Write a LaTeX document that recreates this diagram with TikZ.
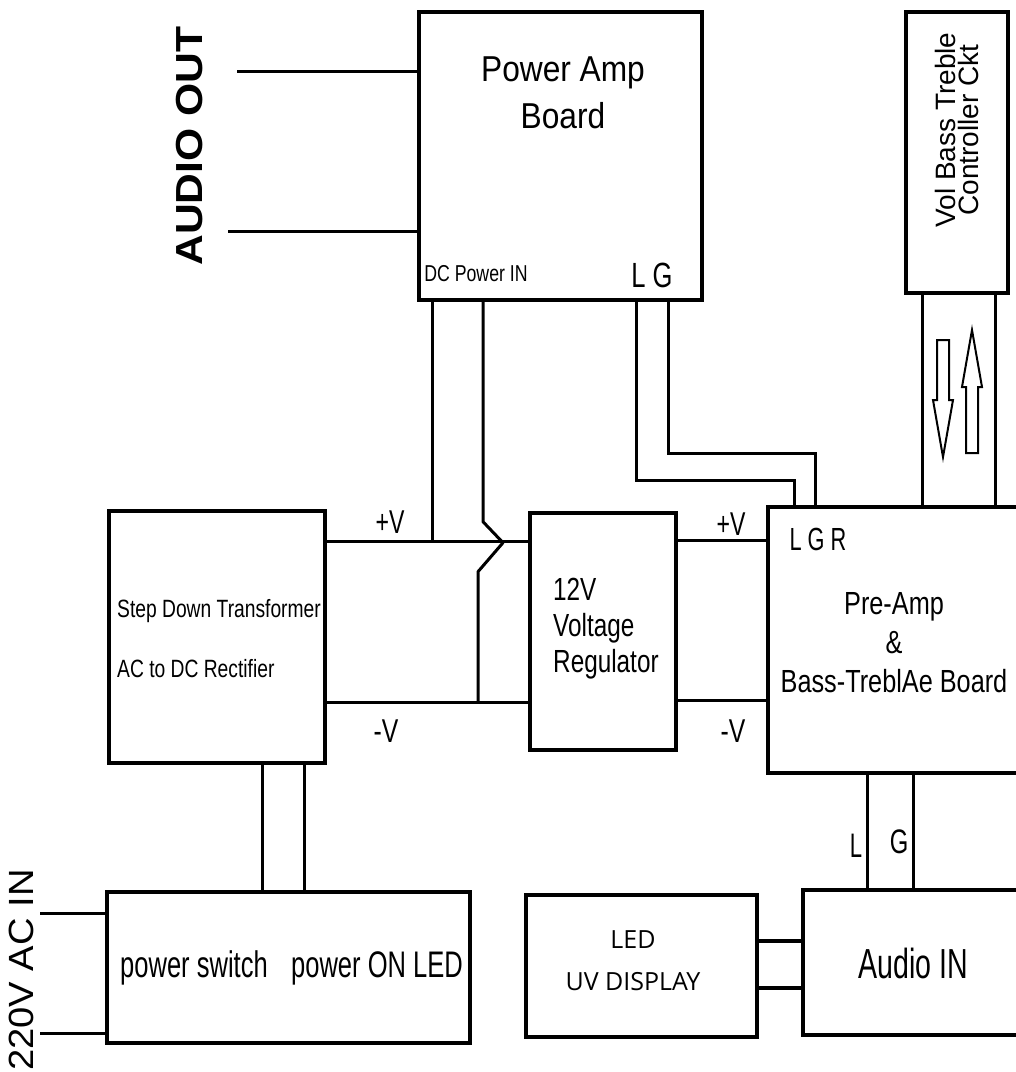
\documentclass[tikz,border=0pt]{standalone}
\usepackage{fontspec}
\usepackage{graphicx}
\setmainfont{Liberation Sans}
\newfontfamily\osans{Open Sans}
\newcommand{\fs}[2]{\fontsize{#1pt}{#2pt}\selectfont}
\newcommand{\sx}[2]{\scalebox{#1}[1]{#2}}
\begin{document}
\begin{tikzpicture}[x=1pt,y=-1pt,
  blk/.style={draw, line width=3.4pt, inner sep=0pt, rectangle},
  wire/.style={line width=3pt},
  lbl/.style={inner sep=0pt, anchor=base},
  mlbl/.style={inner sep=0pt}]
\useasboundingbox (0,0) rectangle (1016,1072);
\clip (0,0) rectangle (1016,1072);
% blocks
\node[blk, minimum width=283pt, minimum height=288pt] (pa) at (560.5,156) {};
\node[blk, minimum width=102pt, minimum height=281pt] (vol) at (957,152.5) {};
\node[blk, minimum width=216pt, minimum height=252pt] (tr) at (217,637) {};
\node[blk, minimum width=146pt, minimum height=237pt] (reg) at (603,631.5) {};
\node[blk, minimum width=262pt, minimum height=266pt] (pre) at (899,640) {};
\node[blk, minimum width=363pt, minimum height=151pt] (sw) at (288.5,967.5) {};
\node[blk, line width=4.5pt, minimum width=231pt, minimum height=142pt] (led) at (641.5,966) {};
\node[blk, minimum width=227pt, minimum height=145pt] (ain) at (916.5,962.5) {};
% texts
\node[mlbl, font=\fs{36}{47}] (tpa) at (563,96) {\sx{0.88}{\begin{tabular}{@{}c@{}}Power Amp\\Board\end{tabular}}};
\node[lbl, font=\fs{23}{26}] (tdc) at (476,281) {\sx{0.77}{DC Power IN}};
\node[lbl, font=\fs{35}{40}] (tlg) at (652,287) {\sx{0.73}{L G}};
\node[mlbl, rotate=90, align=center, font=\fs{28}{23}] (tvol) at (956.5,130) {Vol Bass Treble\\Controller Ckt};
\node[lbl, rotate=90, font=\bfseries\fs{37.7}{40}] (tao) at (202,146) {\sx{1.13}{AUDIO OUT}};
\node[mlbl, anchor=west, font=\fs{25}{60}] (ttr) at (117,635) {\sx{0.77}{\begin{tabular}{@{}l@{}}Step Down Transformer\\AC to DC Rectifier\end{tabular}}};
\node[mlbl, anchor=west, font=\fs{32}{36}] (treg) at (553,629) {\sx{0.76}{\begin{tabular}{@{}l@{}}12V\\Voltage\\Regulator\end{tabular}}};
\node[mlbl, font=\fs{32}{39}] (tpre) at (894,646) {\sx{0.79}{\begin{tabular}{@{}c@{}}Pre-Amp\\\&\\Bass-TreblAe Board\end{tabular}}};
\node[lbl, font=\fs{32}{36}] (tlgr) at (818,550) {\sx{0.68}{L G R}};
\node[lbl, font=\fs{33}{36}] (tpv1) at (390,533) {\sx{0.7}{+V}};
\node[lbl, font=\fs{33}{36}] (tnv1) at (386,742) {\sx{0.75}{-V}};
\node[lbl, font=\fs{33}{36}] (tpv2) at (731,535) {\sx{0.7}{+V}};
\node[lbl, font=\fs{33}{36}] (tnv2) at (733,742) {\sx{0.75}{-V}};
\node[lbl, font=\fs{37}{40}] (tps) at (194,977) {\sx{0.69}{power switch}};
\node[lbl, font=\fs{37}{40}] (tpo) at (377,977) {\sx{0.69}{power ON LED}};
\node[lbl, font=\fs{42}{46}] (tai) at (913,978) {\sx{0.68}{Audio IN}};
\node[lbl, font=\fs{34}{36}] (tl) at (856,857) {\sx{0.65}{L}};
\node[lbl, font=\fs{34}{36}] (tg) at (899,853) {\sx{0.7}{G}};
\node[mlbl, font=\osans\fs{25}{42}] (tled) at (633,960.6) {\begin{tabular}{@{}c@{}}LED\\UV DISPLAY\end{tabular}};
\node[lbl, rotate=90, font=\fs{35}{38}] (tac) at (33,970) {\sx{1.09}{220V AC IN}};
% coordinates
\coordinate (ao1) at (237,71);
\coordinate (ao2) at (228,231);
\coordinate (yPV) at (0,541);
\coordinate (yNV) at (0,702);
\coordinate (yPV2) at (0,540);
\coordinate (yNV2) at (0,700);
\coordinate (xA) at (432,0);
\coordinate (xB) at (483,0);
\coordinate (xB2) at (478,0);
\coordinate (xL) at (636,0);
\coordinate (xG) at (668,0);
\coordinate (cL) at (794,480);
\coordinate (cG) at (815,453);
\coordinate (xV1) at (922,0);
\coordinate (xV2) at (995,0);
\coordinate (xAL) at (867,0);
\coordinate (xAG) at (913,0);
\coordinate (yLED1) at (0,941);
\coordinate (yLED2) at (0,988);
\coordinate (xS1) at (262,0);
\coordinate (xS2) at (304,0);
\coordinate (ac1) at (40,913);
\coordinate (ac2) at (40,1033);
% connectors
\draw[wire] (ao1) -- (ao1 -| pa.west);
\draw[wire] (ao2) -- (ao2 -| pa.west);
\draw[wire] (tr.east |- yPV) -- (reg.west |- yPV);
\draw[wire] (tr.east |- yNV) -- (reg.west |- yNV);
\draw[wire] (pa.south -| xA) -- (xA |- yPV);
\draw[wire, line join=round] (pa.south -| xB) -- ++(0,220) -- ++(20,21) -- ++(-25,29) -- (xB2 |- yNV);
\draw[wire] (reg.east |- yPV2) -- (pre.west |- yPV2);
\draw[wire] (reg.east |- yNV2) -- (pre.west |- yNV2);
\draw[wire] (pa.south -| xL) |- (cL) -- (pre.north -| cL);
\draw[wire] (pa.south -| xG) |- (cG) -- (pre.north -| cG);
\draw[wire] (vol.south -| xV1) -- (pre.north -| xV1);
\draw[wire] (vol.south -| xV2) -- (pre.north -| xV2);
\draw[wire] (pre.south -| xAL) -- (ain.north -| xAL);
\draw[wire] (pre.south -| xAG) -- (ain.north -| xAG);
\draw[wire, line width=4pt] (led.east |- yLED1) -- (ain.west |- yLED1);
\draw[wire, line width=4pt] (led.east |- yLED2) -- (ain.west |- yLED2);
\draw[wire] (tr.south -| xS1) -- (sw.north -| xS1);
\draw[wire] (tr.south -| xS2) -- (sw.north -| xS2);
\draw[wire] (ac1) -- (ac1 -| sw.west);
\draw[wire] (ac2) -- (ac2 -| sw.west);
% hollow arrows
\draw[line width=2pt, line join=miter] (937,340) -- (949,340) -- (949,400) -- (953,400) -- (943,457) -- (933,400) -- (937,400) -- cycle;
\draw[line width=2pt, line join=miter] (972,330) -- (982,387) -- (978,387) -- (978,453) -- (966,453) -- (966,387) -- (962,387) -- cycle;
\end{tikzpicture}
\end{document}
